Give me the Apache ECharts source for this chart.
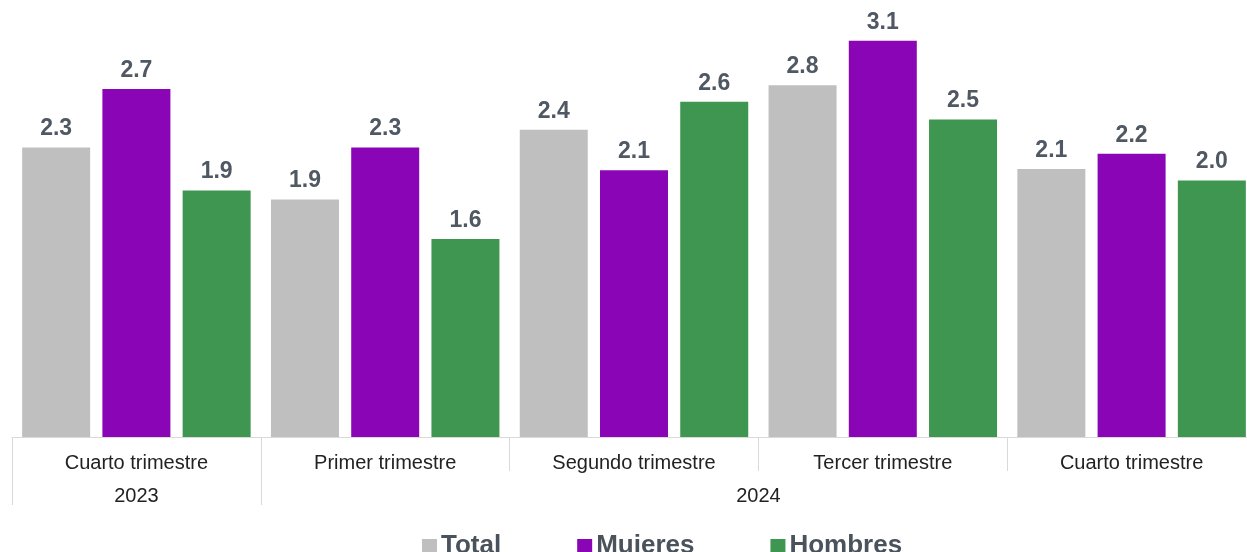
<!DOCTYPE html>
<html>
<head>
<meta charset="utf-8">
<script src="https://cdn.jsdelivr.net/npm/echarts@6/dist/echarts.min.js"></script>
<style>
  html, body { margin: 0; padding: 0; background: #fff; overflow: hidden; }
  #chart { width: 1256px; height: 552px; }
</style>
</head>
<body>
<div id="chart"></div>
<script>
const myChart = echarts.init(document.getElementById('chart'));

// trimestres
const categories = ['Cuarto trimestre', 'Primer trimestre', 'Segundo trimestre', 'Tercer trimestre', 'Cuarto trimestre'];
const years = ['2023', '2024'];
// valores (estimados de la altura de las barras)
const total = [2.28, 1.87, 2.42, 2.77, 2.11];
const mujeres = [2.74, 2.28, 2.10, 3.12, 2.23];
const hombres = [1.94, 1.56, 2.64, 2.50, 2.02];

const font = 'Liberation Sans, Arial, sans-serif';
const labelStyle = {
  show: true,
  position: 'top',
  distance: 7,
  color: '#4f5863',
  fontSize: 23,
  fontWeight: 'bold',
  fontFamily: font,
  formatter: p => p.value.toFixed(1)
};

const option = {
  backgroundColor: '#fff',
  animation: false,
  // el área de la gráfica sigue un poco más allá del borde derecho
  grid: {
    left: 12,
    right: 0,
    top: 30.6,
    bottom: 115
  },
  legend: {
    top: 528,
    left: 417,
    itemWidth: 15,
    itemHeight: 14,
    itemGap: 76,
    icon: 'rect',
    textStyle: {
      color: '#4a525c',
      fontSize: 26,
      fontWeight: 'bold',
      fontFamily: font,
      padding: [0, 0, 0, -1]
    },
    data: ['Total', 'Mujeres', 'Hombres']
  },
  xAxis: [{
    type: 'category',
    data: categories,
    position: 'bottom',
    axisLine: { lineStyle: { color: '#d9d9d9', width: 1 } },
    axisTick: { show: true, interval: 0, length: 34, lineStyle: { color: '#d9d9d9' } },
    axisLabel: { interval: 0, margin: 16, color: '#222', fontSize: 20, fontFamily: font }
  }, {
    // fila de años
    type: 'value',
    min: 0,
    max: 5,
    position: 'bottom',
    axisLine: { show: false },
    splitLine: { show: false },
    axisTick: { show: true, customValues: [0, 1], length: 68, lineStyle: { color: '#d9d9d9' } },
    axisLabel: {
      customValues: [0.5, 3],
      margin: 49,
      color: '#222',
      fontSize: 20,
      fontFamily: font,
      formatter: v => (v < 1 ? years[0] : years[1])
    }
  }],
  yAxis: {
    type: 'value',
    min: 0,
    max: 3.2,
    show: false
  },
  series: [{
    name: 'Total',
    type: 'bar',
    barWidth: 68,
    barGap: '18%',
    itemStyle: { color: '#bfbfbf' },
    label: labelStyle,
    data: total
  }, {
    name: 'Mujeres',
    type: 'bar',
    barWidth: 68,
    barGap: '18%',
    itemStyle: { color: '#8a05b5' },
    label: labelStyle,
    data: mujeres
  }, {
    name: 'Hombres',
    type: 'bar',
    barWidth: 68,
    barGap: '18%',
    itemStyle: { color: '#3e9651' },
    label: labelStyle,
    data: hombres
  }]
};
myChart.setOption(option);
</script>
</body>
</html>
